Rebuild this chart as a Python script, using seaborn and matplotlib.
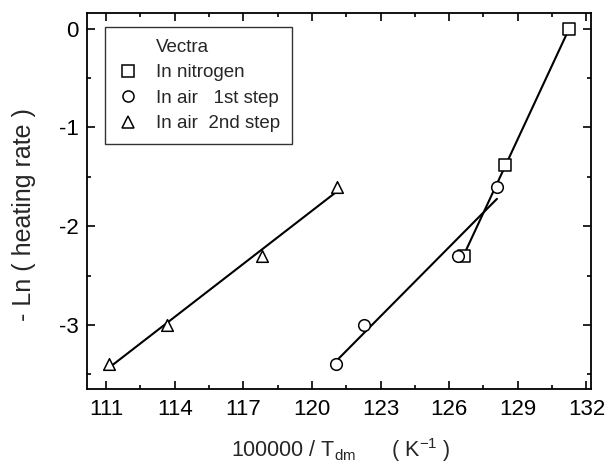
import matplotlib
matplotlib.use("Agg")
import matplotlib.pyplot as plt
from matplotlib.lines import Line2D
import seaborn as sns
import numpy as np

# Kissinger-type data for Vectra: 100000/T_dm vs -ln(heating rate)
nitrogen_x = [126.65, 128.43, 131.26]
nitrogen_y = [-2.3, -1.38, 0.0]

air1_x = [121.04, 122.26, 126.4, 128.09]
air1_y = [-3.4, -3.0, -2.3, -1.6]

air2_x = [111.13, 113.65, 117.83, 121.09]
air2_y = [-3.4, -3.0, -2.3, -1.6]

legend_title = "Vectra"
series_labels = ["In nitrogen", "In air   1st step", "In air  2nd step"]
xticks = [111, 114, 117, 120, 123, 126, 129, 132]
yticks = [0, -1, -2, -3]

sns.set_style("ticks")
plt.rcParams["font.family"] = ["Liberation Sans", "DejaVu Sans"]
plt.rcParams["mathtext.fontset"] = "custom"
plt.rcParams["mathtext.rm"] = "Liberation Sans"
plt.rcParams["mathtext.it"] = "Liberation Sans"

fig = plt.figure(figsize=(6.09, 4.66), dpi=100)
ax = fig.add_axes([0.1429, 0.1652, 0.8275, 0.8069])

markers = ["s", "o", "^"]
for (xs, ys), m in zip([(nitrogen_x, nitrogen_y), (air1_x, air1_y), (air2_x, air2_y)], markers):
    sns.regplot(x=np.array(xs), y=np.array(ys), ax=ax, ci=None, truncate=True,
                marker=m,
                scatter_kws=dict(s=70, facecolors="white", edgecolors="black",
                                 linewidths=1.1, zorder=3, alpha=1),
                line_kws=dict(color="black", lw=1.5, zorder=2))

ax.set_xlim(110.17, 132.2)
ax.set_ylim(-3.65, 0.16)
ax.set_xticks(xticks)
ax.set_xticklabels([str(t) for t in xticks])
ax.set_yticks(yticks)
ax.set_yticklabels([str(t) for t in yticks])
ax.set_xticks(np.arange(112.5, 132, 3), minor=True)
ax.set_yticks([-0.5, -1.5, -2.5, -3.5], minor=True)

ax.tick_params(which="both", direction="in", top=True, right=True,
               labelsize=16, colors="black", width=1.2)
ax.tick_params(which="major", length=6)
ax.tick_params(axis="x", which="major", pad=7)
ax.tick_params(axis="y", which="major", pad=6)
ax.tick_params(which="minor", length=3)
for sp in ax.spines.values():
    sp.set_visible(True)
    sp.set_linewidth(1.3)
    sp.set_color("black")

ax.set_xlabel(r"100000 / T$_{\mathrm{dm}}$      ( K$^{\mathrm{-1}}$ )", fontsize=15.5)
ax.xaxis.set_label_coords(0.503, -0.125)
ax.set_ylabel("- Ln ( heating rate )", fontsize=18)
ax.yaxis.set_label_coords(-0.102, 0.463)

handles = [Line2D([], [], linestyle="none", marker=None)]
for m in markers:
    handles.append(Line2D([], [], linestyle="none", marker=m, markersize=8,
                          markerfacecolor="white", markeredgecolor="black",
                          markeredgewidth=1.1))
labels = [legend_title] + series_labels
leg = ax.legend(handles, labels, loc="upper left", bbox_to_anchor=(0.036, 0.962),
                frameon=True, fancybox=False, edgecolor="black", fontsize=13.5,
                handlelength=1.2, handletextpad=0.9, labelspacing=0.44,
                borderpad=0.62, borderaxespad=0)
leg.get_frame().set_linewidth(1.0)

fig.savefig("out.png", dpi=100)
